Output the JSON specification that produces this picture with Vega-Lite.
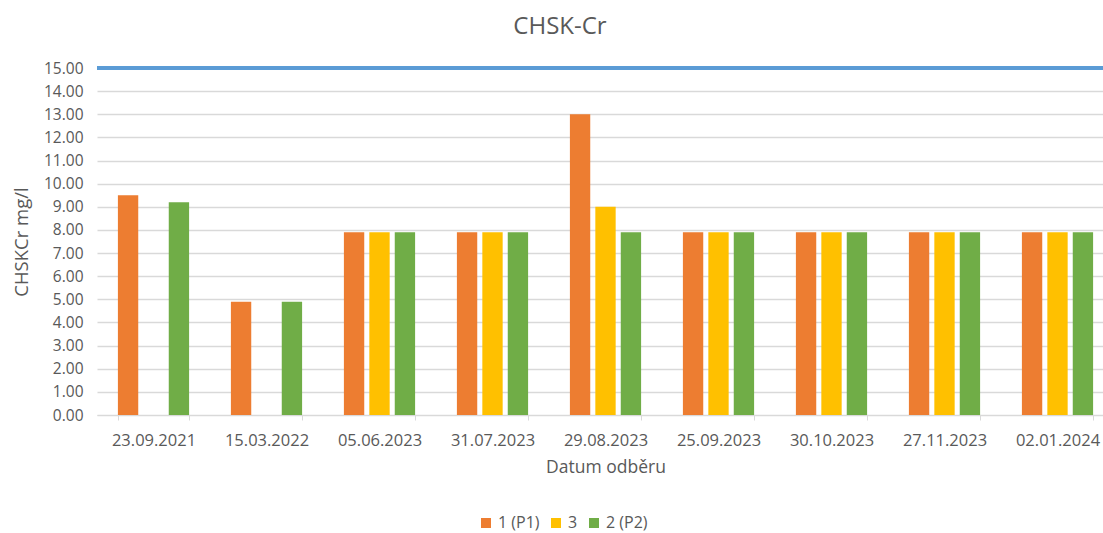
{
  "$schema": "https://vega.github.io/schema/vega-lite/v6.json",
  "autosize": {"type": "none"},
  "padding": {"left": 97, "top": 68, "right": 0, "bottom": 118},
  "width": 1006,
  "height": 347,
  "background": "white",
  "title": {"text": "CHSK-Cr", "fontSize": 24, "font": "Open Sans", "fontWeight": "normal", "color": "#595959", "offset": 22, "dx": -40},
  "config": {
    "view": {"stroke": null},
    "font": "Open Sans"
  },
  "data": {
    "values": [
      {"datum": "23.09.2021", "serie": "1 (P1)", "v": 9.5},
      {"datum": "23.09.2021", "serie": "2 (P2)", "v": 9.2},
      {"datum": "15.03.2022", "serie": "1 (P1)", "v": 4.9},
      {"datum": "15.03.2022", "serie": "2 (P2)", "v": 4.9},
      {"datum": "05.06.2023", "serie": "1 (P1)", "v": 7.9},
      {"datum": "05.06.2023", "serie": "3", "v": 7.9},
      {"datum": "05.06.2023", "serie": "2 (P2)", "v": 7.9},
      {"datum": "31.07.2023", "serie": "1 (P1)", "v": 7.9},
      {"datum": "31.07.2023", "serie": "3", "v": 7.9},
      {"datum": "31.07.2023", "serie": "2 (P2)", "v": 7.9},
      {"datum": "29.08.2023", "serie": "1 (P1)", "v": 13.0},
      {"datum": "29.08.2023", "serie": "3", "v": 9.0},
      {"datum": "29.08.2023", "serie": "2 (P2)", "v": 7.9},
      {"datum": "25.09.2023", "serie": "1 (P1)", "v": 7.9},
      {"datum": "25.09.2023", "serie": "3", "v": 7.9},
      {"datum": "25.09.2023", "serie": "2 (P2)", "v": 7.9},
      {"datum": "30.10.2023", "serie": "1 (P1)", "v": 7.9},
      {"datum": "30.10.2023", "serie": "3", "v": 7.9},
      {"datum": "30.10.2023", "serie": "2 (P2)", "v": 7.9},
      {"datum": "27.11.2023", "serie": "1 (P1)", "v": 7.9},
      {"datum": "27.11.2023", "serie": "3", "v": 7.9},
      {"datum": "27.11.2023", "serie": "2 (P2)", "v": 7.9},
      {"datum": "02.01.2024", "serie": "1 (P1)", "v": 7.9},
      {"datum": "02.01.2024", "serie": "3", "v": 7.9},
      {"datum": "02.01.2024", "serie": "2 (P2)", "v": 7.9}
    ]
  },
  "layer": [
    {
      "mark": {"type": "bar"},
      "encoding": {
        "x": {
          "field": "datum", "type": "nominal", "sort": null,
          "scale": {"paddingInner": 0.37, "paddingOuter": 0.185, "range": [0, 1017]},
          "axis": {
            "title": "Datum odběru", "labelAngle": 0, "labelFontSize": 16.5, "labelColor": "#595959",
            "labelPadding": 12, "titleFontSize": 17.5, "titleFontWeight": "normal", "titleColor": "#595959",
            "titlePadding": 10, "domainColor": "#d9d9d9", "tickColor": "#d9d9d9", "tickBand": "extent",
            "tickSize": 5, "grid": false, "labelOverlap": false
          }
        },
        "xOffset": {
          "field": "serie", "type": "nominal",
          "sort": ["1 (P1)", "3", "2 (P2)"],
          "scale": {"domain": ["1 (P1)", "3", "2 (P2)"], "paddingInner": 0.2, "paddingOuter": 0}
        },
        "y": {
          "field": "v", "type": "quantitative",
          "scale": {"domain": [0, 15], "nice": false},
          "axis": {
            "title": "CHSKCr mg/l", "format": ".2f", "values": [0,1,2,3,4,5,6,7,8,9,10,11,12,13,14,15],
            "labelFontSize": 15.5, "labelColor": "#595959", "labelPadding": 14, "labelOverlap": false,
            "domain": false, "ticks": false, "gridColor": "#d9d9d9", "gridWidth": 1.5,
            "titleFontSize": 18.5, "titleFontWeight": "normal", "titleColor": "#595959", "titlePadding": 12
          }
        },
        "color": {
          "field": "serie", "type": "nominal",
          "scale": {"domain": ["1 (P1)", "3", "2 (P2)"], "range": ["#ED7D31", "#FFC000", "#70AD47"]},
          "legend": {
            "title": null, "orient": "none", "direction": "horizontal", "legendX": 381, "legendY": 447,
            "symbolType": "square", "symbolSize": 100, "symbolStrokeWidth": 0, "labelFontSize": 16,
            "labelColor": "#595959", "columnPadding": 8, "labelOffset": 4
          }
        }
      }
    },
    {
      "mark": {"type": "rule", "color": "#5B9BD5", "strokeWidth": 3},
      "encoding": {
        "y": {
          "datum": 15,
          "axis": {
            "title": "CHSKCr mg/l", "format": ".2f", "values": [0,1,2,3,4,5,6,7,8,9,10,11,12,13,14,15],
            "labelFontSize": 15.5, "labelColor": "#595959", "labelPadding": 14, "labelOverlap": false,
            "domain": false, "ticks": false, "gridColor": "#d9d9d9", "gridWidth": 1.5,
            "titleFontSize": 18.5, "titleFontWeight": "normal", "titleColor": "#595959", "titlePadding": 12
          }
        }
      }
    }
  ]
}
